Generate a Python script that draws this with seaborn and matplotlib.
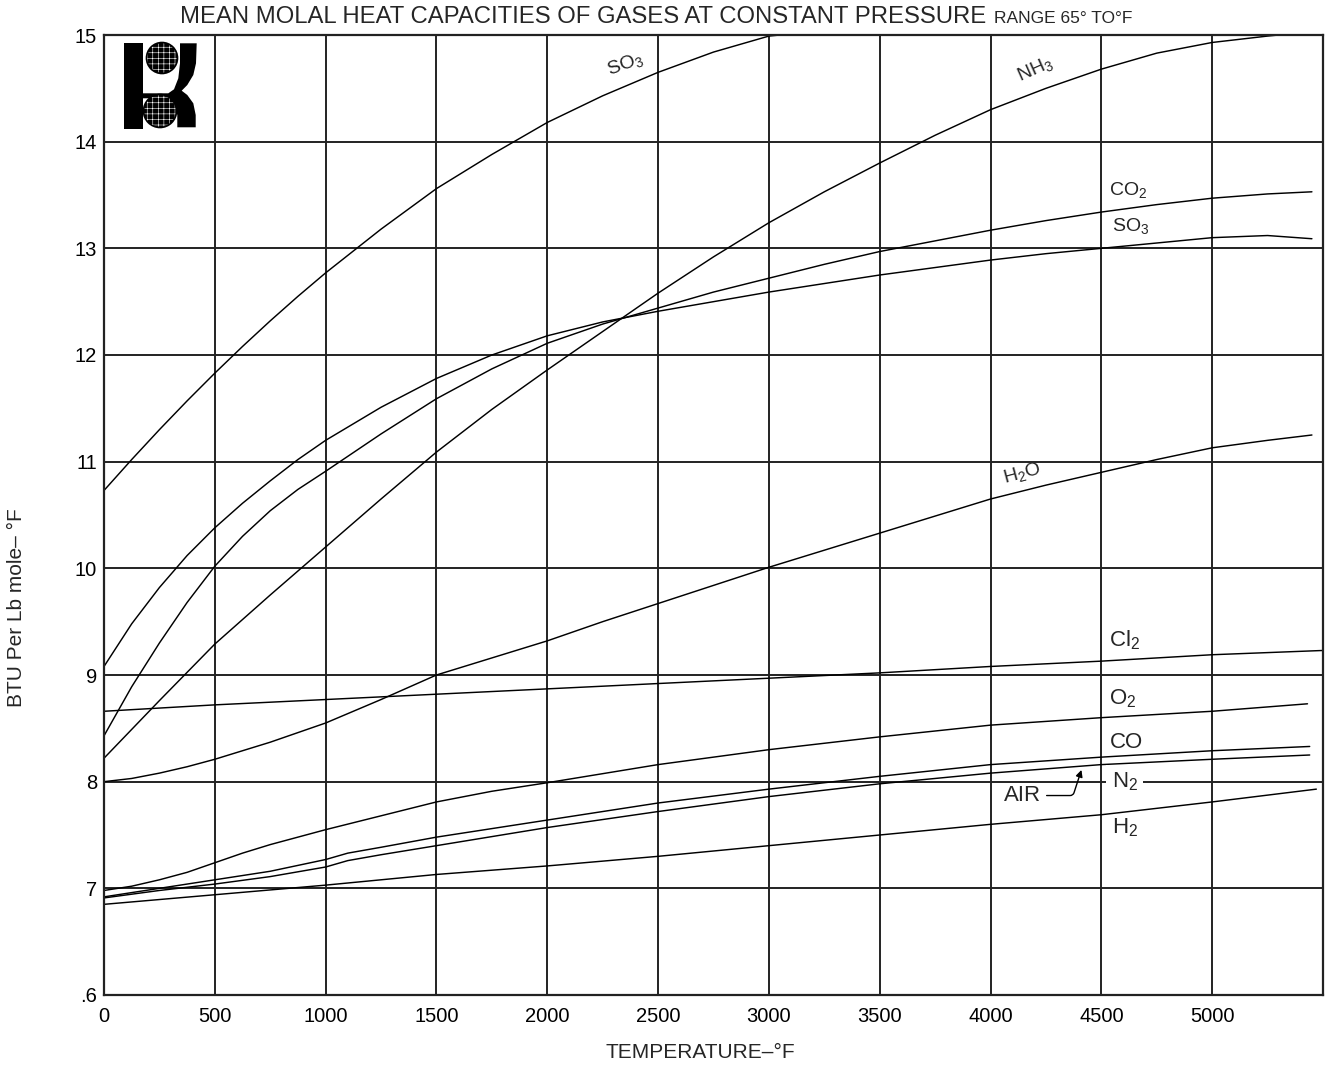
import matplotlib
matplotlib.use('Agg')
import numpy as np
import pandas as pd
import matplotlib.pyplot as plt
import seaborn as sns
from matplotlib.patches import Rectangle, Circle, Polygon

# Values: temperature (F) vs mean molal heat capacity
so3_hi_t = [0, 125, 250, 375, 500, 625, 750, 875, 1000, 1250, 1500, 1750, 2000, 2250,
            2500, 2750, 3000, 3050]
so3_hi_cp = [10.73, 11.02, 11.30, 11.57, 11.83, 12.08, 12.32, 12.55, 12.77, 13.18, 13.56, 13.88,
             14.18, 14.43, 14.65, 14.84, 14.99, 15.0]

nh3_t = [0, 250, 500, 750, 1000, 1250, 1500, 1750, 2000, 2250, 2500, 2750, 3000, 3250,
         3500, 3750, 4000, 4250, 4500, 4750, 5000, 5250, 5300, 5500]
nh3_cp = [8.22, 8.76, 9.29, 9.75, 10.20, 10.65, 11.09, 11.49, 11.86, 12.22, 12.58, 12.92, 13.24, 13.53,
          13.80, 14.06, 14.30, 14.50, 14.68, 14.83, 14.93, 14.99, 15.0, 15.0]

mid_t = [0, 125, 250, 375, 500, 625, 750, 875, 1000, 1250, 1500, 1750, 2000, 2250, 2500, 2750,
         3000, 3250, 3500, 3750, 4000, 4250, 4500, 4750, 5000, 5250, 5450]
co2_cp = [8.43, 8.89, 9.30, 9.68, 10.02, 10.30, 10.54, 10.74, 10.91, 11.26, 11.59, 11.87, 12.11,
          12.29, 12.44, 12.59, 12.72, 12.85, 12.97, 13.07, 13.17, 13.26, 13.34, 13.41, 13.47,
          13.51, 13.53]
so3_lo_cp = [9.08, 9.48, 9.82, 10.12, 10.38, 10.61, 10.82, 11.02, 11.20, 11.51, 11.78, 12.00, 12.18,
             12.31, 12.41, 12.50, 12.59, 12.67, 12.75, 12.82, 12.89, 12.95, 13.00, 13.05, 13.10,
             13.12, 13.09]
h2o_cp = [8.00, 8.03, 8.08, 8.14, 8.21, 8.29, 8.37, 8.46, 8.55, 8.77, 9.00, 9.16, 9.32, 9.50,
          9.67, 9.84, 10.01, 10.17, 10.33, 10.49, 10.65, 10.78, 10.90, 11.02, 11.13, 11.20, 11.25]

cl2_t = [0, 500, 1000, 1500, 2000, 2500, 3000, 3500, 4000, 4500, 5000, 5500]
cl2_cp = [8.66, 8.72, 8.77, 8.82, 8.87, 8.92, 8.97, 9.02, 9.08, 9.13, 9.19, 9.23]

o2_t = [0, 125, 250, 375, 500, 625, 750, 1000, 1250, 1500, 1750, 2000, 2500, 3000, 3500, 4000,
        4500, 5000, 5430]
o2_cp = [6.98, 7.02, 7.08, 7.15, 7.24, 7.33, 7.41, 7.55, 7.68, 7.81, 7.91, 7.99, 8.16, 8.30, 8.42,
         8.53, 8.60, 8.66, 8.73]

co_t = [0, 125, 250, 375, 500, 750, 1000, 1100, 1250, 1500, 2000, 2500, 3000, 3500, 4000, 4500,
        5000, 5440]
co_cp = [6.92, 6.96, 7.00, 7.04, 7.08, 7.16, 7.27, 7.33, 7.385, 7.48, 7.64, 7.80, 7.93, 8.05, 8.16,
         8.23, 8.29, 8.33]
n2_cp = [6.91, 6.945, 6.98, 7.01, 7.04, 7.11, 7.20, 7.26, 7.315, 7.40, 7.57, 7.72, 7.86, 7.98,
         8.08, 8.16, 8.21, 8.25]

h2_t = [0, 500, 1000, 1500, 2000, 2500, 3000, 3500, 4000, 4500, 5000, 5470]
h2_cp = [6.85, 6.94, 7.03, 7.13, 7.21, 7.30, 7.40, 7.50, 7.60, 7.69, 7.81, 7.93]

x_ticks = [0, 500, 1000, 1500, 2000, 2500, 3000, 3500, 4000, 4500, 5000]
y_ticks = [6, 7, 8, 9, 10, 11, 12, 13, 14, 15]
y_tick_labels = ['.6', '7', '8', '9', '10', '11', '12', '13', '14', '15']

# curve labels: text, x, y, rotation, size
curve_labels = [
    ('SO$_3$', 2350, 14.73, 20, 14),
    ('NH$_3$', 4200, 14.68, 24, 14),
    ('CO$_2$', 4620, 13.55, 0, 14),
    ('SO$_3$', 4630, 13.21, 0, 14),
    ('H$_2$O', 4142, 10.89, 15, 14),
    ('Cl$_2$', 4606, 9.33, 0, 16),
    ('O$_2$', 4597, 8.78, 0, 16),
    ('CO', 4615, 8.37, 0, 16),
    ('H$_2$', 4606, 7.57, 0, 16),
]

series = {
    'SO3_hi': (so3_hi_t, so3_hi_cp),
    'NH3': (nh3_t, nh3_cp),
    'CO2': (mid_t, co2_cp),
    'SO3_lo': (mid_t, so3_lo_cp),
    'H2O': (mid_t, h2o_cp),
    'Cl2': (cl2_t, cl2_cp),
    'O2': (o2_t, o2_cp),
    'CO': (co_t, co_cp),
    'N2': (co_t, n2_cp),
    'H2': (h2_t, h2_cp),
}
frames = [pd.DataFrame({'temp': t, 'cp': cp, 'gas': name}) for name, (t, cp) in series.items()]
df = pd.concat(frames, ignore_index=True)

sns.set_style('white')
plt.rcParams['font.family'] = ['Liberation Sans', 'DejaVu Sans']
plt.rcParams['mathtext.fontset'] = 'custom'
plt.rcParams['mathtext.rm'] = 'Liberation Sans'
plt.rcParams['mathtext.it'] = 'Liberation Sans'
plt.rcParams['hatch.linewidth'] = 0.4

W, H = 1331, 1068
fig = plt.figure(figsize=(W / 100, H / 100), dpi=100)
ax = fig.add_axes([104 / W, 73 / H, 1219 / W, 960 / H])

sns.lineplot(data=df, x='temp', y='cp', hue='gas', palette=['black'] * len(series),
             estimator=None, sort=False, legend=False, linewidth=1.05, ax=ax)
for ln in ax.get_lines():
    ln.set_solid_joinstyle('round')

ax.set_xlim(0, 5500)
ax.set_ylim(6, 15)
ax.set_xticks(x_ticks)
ax.set_xticklabels([str(v) for v in x_ticks], fontsize=14.5)
ax.set_yticks(y_ticks)
ax.set_yticklabels(y_tick_labels, fontsize=14.5)
ax.tick_params(axis='both', length=0, colors='black')
ax.tick_params(axis='x', pad=9)
ax.tick_params(axis='y', pad=5)
ax.grid(True, color='#222222', linewidth=1.4)
ax.set_axisbelow(True)
for sp in ax.spines.values():
    sp.set_color('#222222')
    sp.set_linewidth(1.6)
ax.set_xlabel('')
ax.set_ylabel('')

for text, x, y, rot, size in curve_labels:
    ax.text(x, y, text, rotation=rot, fontsize=size, ha='center', va='center',
            rotation_mode='anchor')

# N2 sits on the 8 gridline, which is broken around it
ax.text(4606, 8.0, 'N$_2$', fontsize=16, ha='center', va='center',
        bbox=dict(facecolor='white', edgecolor='none', pad=4), zorder=5)
ax.annotate('AIR', xy=(4410, 8.11), xytext=(4142, 7.87), fontsize=16,
            ha='center', va='center',
            arrowprops=dict(arrowstyle='-|>', color='black', lw=1.0,
                            connectionstyle='angle,angleA=0,angleB=72,rad=3',
                            shrinkA=2, shrinkB=0, mutation_scale=10))

fig.text(180 / W, 1 - 23 / H, 'MEAN MOLAL HEAT CAPACITIES OF GASES AT CONSTANT PRESSURE',
         fontsize=17.2, ha='left', va='baseline')
fig.text(994 / W, 1 - 23 / H, 'RANGE 65° TO°F', fontsize=12.5, ha='left', va='baseline')
fig.text(700 / W, 1 - 1053 / H, 'TEMPERATURE–°F', fontsize=15, ha='center', va='center')
fig.text(17 / W, 1 - 608 / H, 'BTU Per Lb mole– °F', fontsize=15, rotation=90,
         ha='center', va='center')

# logo in the top left cell, drawn in pixel units
lg = fig.add_axes([118 / W, 1 - 134 / H, 84 / W, 94 / H])
lg.set_xlim(118, 202)
lg.set_ylim(134, 40)
lg.axis('off')
lg.add_patch(Rectangle((124, 43), 18.5, 86, color='black', lw=0))
lg.add_patch(Polygon([(180, 43.3), (196.7, 43.3), (196, 63.3), (193.3, 75), (187.3, 85),
                      (181.7, 90.7), (187.3, 95), (193.3, 103.3), (195.7, 115), (195.7, 127.3),
                      (177.3, 127.3), (177.3, 115), (174, 105), (168.3, 98.3), (141.7, 98.3),
                      (141.7, 93.3), (168.3, 93.3), (174, 89.3), (178.3, 78.3), (180, 63.3)],
                     closed=True, color='black', lw=0))
for cx, cy, r in [(162, 58, 15.5), (160, 111, 16.5)]:
    lg.add_patch(Circle((cx, cy), r, facecolor='black', edgecolor='white', hatch='+++', lw=0))
    lg.add_patch(Circle((cx, cy), r, fill=False, edgecolor='black', lw=1.2))

fig.savefig('out.png', dpi=100, facecolor='white')
